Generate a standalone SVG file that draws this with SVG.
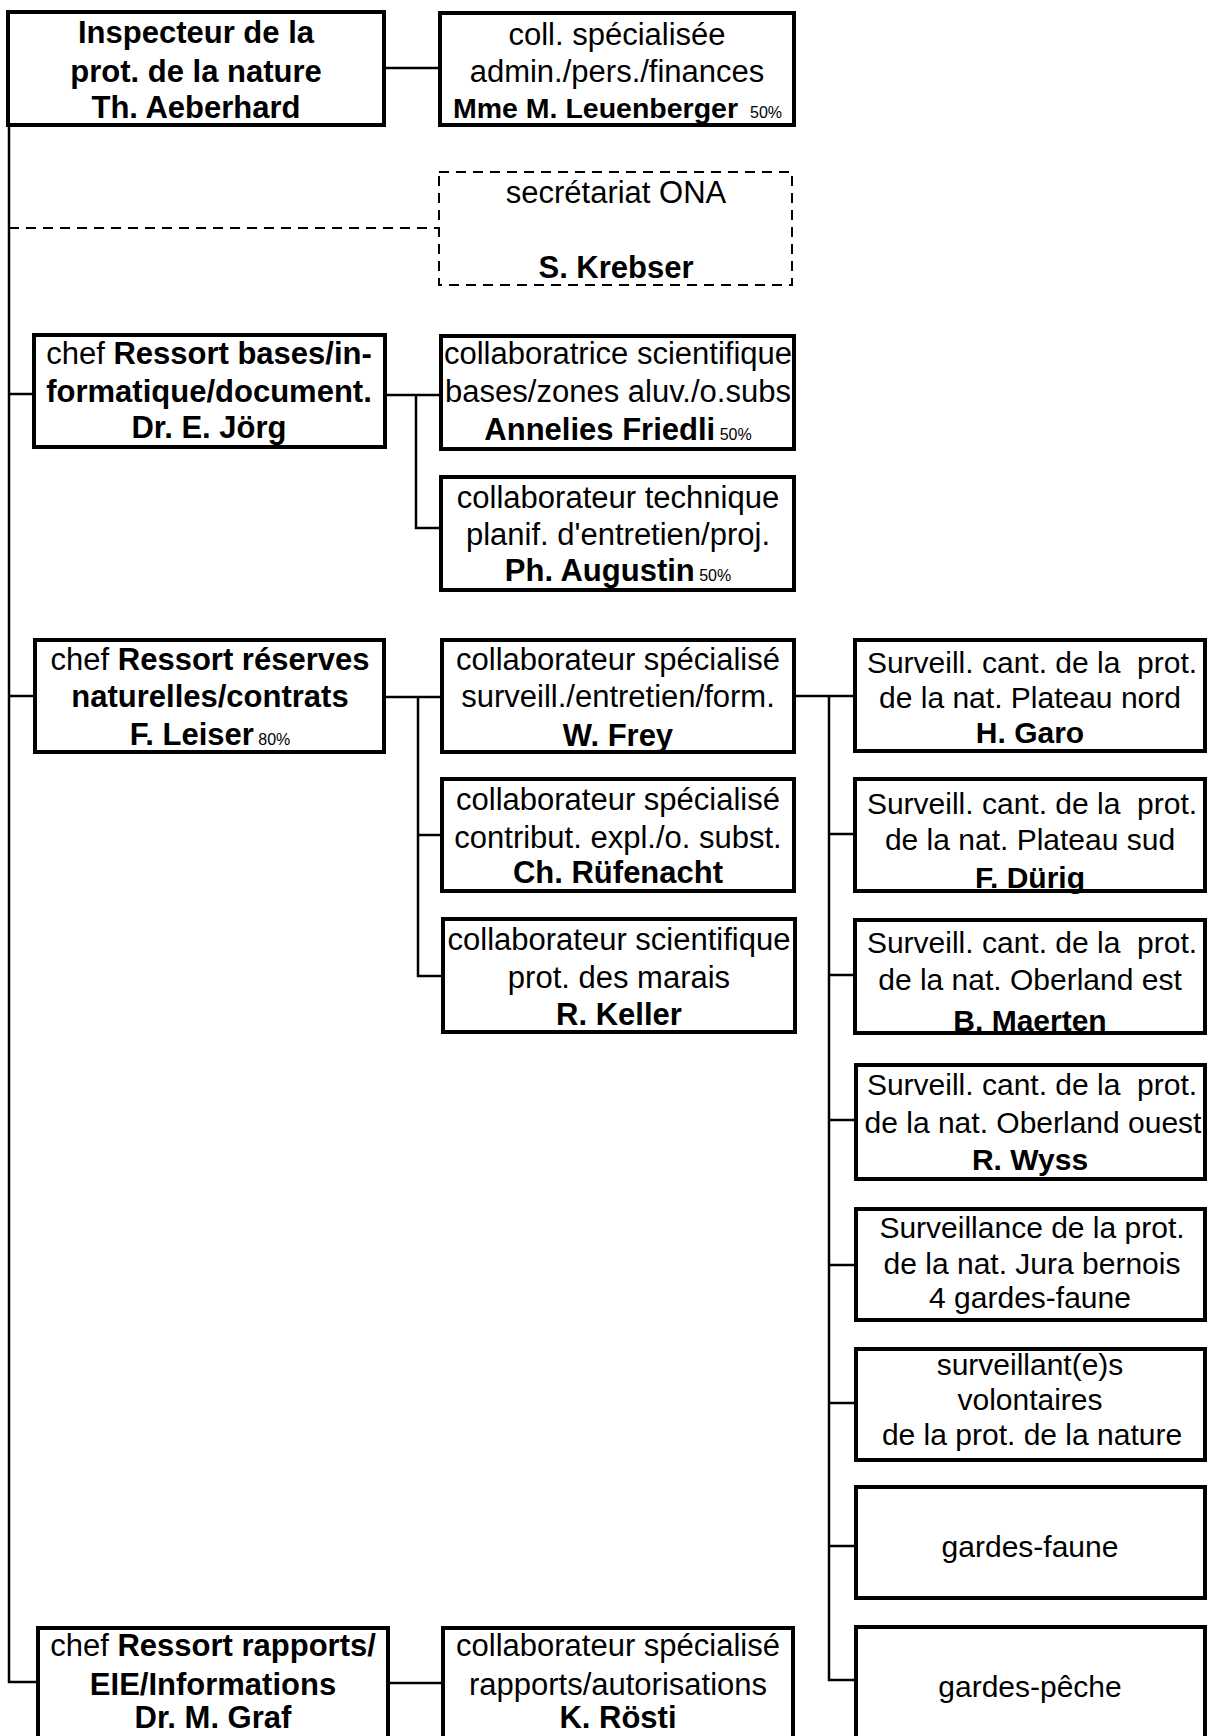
<svg xmlns="http://www.w3.org/2000/svg" width="1209" height="1736" viewBox="0 0 1209 1736">
<style>
.box{fill:none;stroke:#000;stroke-width:4}
.dash{fill:none;stroke:#000;stroke-width:2;stroke-dasharray:10 7}
.c{fill:none;stroke:#000;stroke-width:2.5}
.cd{fill:none;stroke:#000;stroke-width:2;stroke-dasharray:10 7}
text{font-family:"Liberation Sans",Arial,Helvetica,sans-serif;font-size:31px;text-anchor:middle;fill:#000}
.t3{font-size:30px}
.b{font-weight:bold}
.s{font-size:16px;font-weight:normal}
.st{text-anchor:start}
</style>
<rect x="0" y="0" width="1209" height="1736" fill="#fff"/>
<g id="connectors">
<path class="c" d="M9,125 V1682 H38"/>
<path class="c" d="M384,68 H440"/>
<path class="cd" d="M9,228 H439"/>
<path class="c" d="M9,394 H34"/>
<path class="c" d="M385,395 H441 M416,395 V528 H441"/>
<path class="c" d="M9,696 H35"/>
<path class="c" d="M384,697 H442 M418,697 V976 H443 M418,835 H442"/>
<path class="c" d="M794,696 H855 M829,696 V1680 H856 M829,834 H855 M829,975 H855 M829,1120 H856 M829,1265 H856 M829,1403 H856 M829,1546 H856"/>
<path class="c" d="M388,1683 H443"/>
</g>
<g id="n1">
<text x="196" y="43" class="b">Inspecteur de la</text>
<text x="196" y="82" class="b">prot. de la nature</text>
<text x="196" y="118" class="b">Th. Aeberhard</text>
<rect class="box" x="8" y="12" width="376" height="113"/>
</g>
<g id="n2">
<text x="617" y="45">coll. spécialisée</text>
<text x="617" y="82">admin./pers./finances</text>
<text x="453" y="118" class="b st" style="font-size:28.5px">Mme M. Leuenberger</text>
<text x="750" y="118" class="s st">50%</text>
<rect class="box" x="440" y="13" width="354" height="112"/>
</g>
<g id="n3">
<text x="616" y="203">secrétariat ONA</text>
<text x="616" y="278" class="b">S. Krebser</text>
<rect class="dash" x="439" y="172" width="353" height="113"/>
</g>
<g id="n4">
<text x="209" y="364">chef <tspan class="b">Ressort bases/in-</tspan></text>
<text x="209" y="402" class="b">formatique/document.</text>
<text x="209" y="438" class="b">Dr. E. Jörg</text>
<rect class="box" x="34" y="335" width="351" height="112"/>
</g>
<g id="n5">
<text x="618" y="364">collaboratrice scientifique</text>
<text x="618" y="402">bases/zones aluv./o.subs</text>
<text x="618" y="440"><tspan class="b">Annelies Friedli</tspan><tspan class="s"> 50%</tspan></text>
<rect class="box" x="441" y="336" width="353" height="113"/>
</g>
<g id="n6">
<text x="618" y="508">collaborateur technique</text>
<text x="618" y="545">planif. d'entretien/proj.</text>
<text x="618" y="581"><tspan class="b">Ph. Augustin</tspan><tspan class="s"> 50%</tspan></text>
<rect class="box" x="441" y="477" width="353" height="113"/>
</g>
<g id="n7">
<text x="210" y="670">chef <tspan class="b">Ressort réserves</tspan></text>
<text x="210" y="707" class="b">naturelles/contrats</text>
<text x="210" y="745"><tspan class="b">F. Leiser</tspan><tspan class="s"> 80%</tspan></text>
<rect class="box" x="35" y="640" width="349" height="112"/>
</g>
<g id="n8">
<text x="618" y="670">collaborateur spécialisé</text>
<text x="618" y="707">surveill./entretien/form.</text>
<text x="618" y="746" class="b">W. Frey</text>
<rect class="box" x="442" y="640" width="352" height="112"/>
</g>
<g id="n9">
<text x="618" y="810">collaborateur spécialisé</text>
<text x="618" y="848">contribut. expl./o. subst.</text>
<text x="618" y="883" class="b">Ch. Rüfenacht</text>
<rect class="box" x="442" y="779" width="352" height="112"/>
</g>
<g id="n10">
<text x="619" y="950">collaborateur scientifique</text>
<text x="619" y="988">prot. des marais</text>
<text x="619" y="1025" class="b">R. Keller</text>
<rect class="box" x="443" y="919" width="352" height="113"/>
</g>
<g id="n11">
<text x="1032" y="673" class="t3" xml:space="preserve">Surveill. cant. de la  prot.</text>
<text x="1030" y="708" class="t3">de la nat. Plateau nord</text>
<text x="1030" y="743" class="t3 b">H. Garo</text>
<rect class="box" x="855" y="640" width="350" height="111"/>
</g>
<g id="n12">
<text x="1032" y="814" class="t3" xml:space="preserve">Surveill. cant. de la  prot.</text>
<text x="1030" y="850" class="t3">de la nat. Plateau sud</text>
<text x="1030" y="888" class="t3 b">F. Dürig</text>
<rect class="box" x="855" y="779" width="350" height="112"/>
</g>
<g id="n13">
<text x="1032" y="953" class="t3" xml:space="preserve">Surveill. cant. de la  prot.</text>
<text x="1030" y="990" class="t3">de la nat. Oberland est</text>
<text x="1030" y="1031" class="t3 b">B. Maerten</text>
<rect class="box" x="855" y="920" width="350" height="113"/>
</g>
<g id="n14">
<text x="1032" y="1095" class="t3" xml:space="preserve">Surveill. cant. de la  prot.</text>
<text x="1033" y="1133" class="t3">de la nat. Oberland ouest</text>
<text x="1030" y="1170" class="t3 b">R. Wyss</text>
<rect class="box" x="856" y="1065" width="349" height="114"/>
</g>
<g id="n15">
<text x="1032" y="1238" class="t3">Surveillance de la prot.</text>
<text x="1032" y="1274" class="t3">de la nat. Jura bernois</text>
<text x="1030" y="1308" class="t3">4 gardes-faune</text>
<rect class="box" x="856" y="1209" width="349" height="111"/>
</g>
<g id="n16">
<text x="1030" y="1375" class="t3">surveillant(e)s</text>
<text x="1030" y="1410" class="t3">volontaires</text>
<text x="1032" y="1445" class="t3">de la prot. de la nature</text>
<rect class="box" x="856" y="1349" width="349" height="111"/>
</g>
<g id="n17">
<text x="1030" y="1557" class="t3">gardes-faune</text>
<rect class="box" x="856" y="1487" width="349" height="111"/>
</g>
<g id="n18">
<text x="1030" y="1697" class="t3">gardes-pêche</text>
<rect class="box" x="856" y="1627" width="349" height="140"/>
</g>
<g id="n19">
<text x="213" y="1656">chef <tspan class="b">Ressort rapports/</tspan></text>
<text x="213" y="1695" class="b">EIE/Informations</text>
<text x="213" y="1728" class="b">Dr. M. Graf</text>
<rect class="box" x="38" y="1628" width="350" height="140"/>
</g>
<g id="n20">
<text x="618" y="1656">collaborateur spécialisé</text>
<text x="618" y="1695">rapports/autorisations</text>
<text x="618" y="1728" class="b">K. Rösti</text>
<rect class="box" x="443" y="1628" width="350" height="140"/>
</g>
</svg>
